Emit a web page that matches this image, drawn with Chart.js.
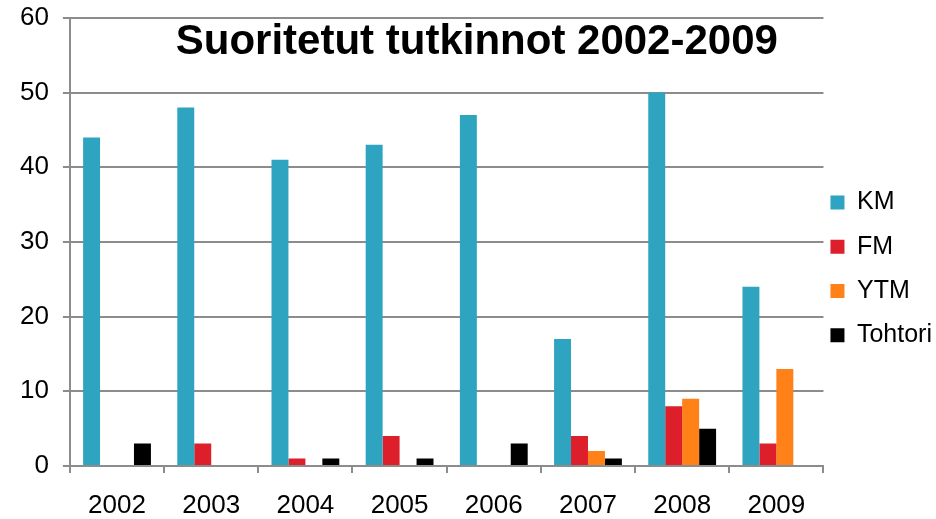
<!DOCTYPE html>
<html>
<head>
<meta charset="utf-8">
<script src="https://cdn.jsdelivr.net/npm/chart.js@4/dist/chart.umd.min.js"></script>
<style>
  html, body { margin: 0; padding: 0; background: #fff; }
  #wrap { width: 936px; height: 519px; }
</style>
</head>
<body>
<div id="wrap"><canvas id="tutkinnot" width="936" height="519"></canvas></div>
<script>
// Vuodet ja tutkintomäärät
var years = ['2002', '2003', '2004', '2005', '2006', '2007', '2008', '2009'];
var km = [44, 48, 41, 43, 47, 17, 50, 24];
var fm = [0, 3, 1, 4, 0, 4, 8, 3];
var ytm = [0, 0, 0, 0, 0, 2, 9, 13];
var tohtori = [3, 0, 1, 1, 3, 1, 5, 0];
var yTicks = [0, 10, 20, 30, 40, 50, 60];

var fontFamily = '"Liberation Sans", Arial, sans-serif';
var gridGray = '#8c8c8c';

// Otsikko piirretään kuva-alueen sisään
var insideTitle = {
    id: 'insideTitle',
    afterDraw: function(chart) {
        var ctx = chart.ctx,
            area = chart.chartArea;
        ctx.save();
        ctx.font = 'bold 42px ' + fontFamily;
        ctx.fillStyle = '#000';
        ctx.textAlign = 'center';
        ctx.textBaseline = 'middle';
        ctx.fillText('Suoritetut tutkinnot 2002-2009', area.left + (area.right - area.left) * 0.54, area.top + 25);
        ctx.restore();
    }
};

new Chart(document.getElementById('tutkinnot'), {
    type: 'bar',
    data: {
        labels: years,
        datasets: [
            { label: 'KM', data: km, backgroundColor: '#2ea4c1' },
            { label: 'FM', data: fm, backgroundColor: '#dc1f2b' },
            { label: 'YTM', data: ytm, backgroundColor: '#ff8118' },
            { label: 'Tohtori', data: tohtori, backgroundColor: '#000000' }
        ]
    },
    options: {
        responsive: false,
        animation: false,
        categoryPercentage: 0.72,
        barPercentage: 1.0,
        layout: { padding: { top: -3, right: -6, bottom: -20, left: 6 } },
        plugins: {
            title: { display: false },
            tooltip: { enabled: false },
            legend: {
                position: 'right',
                // tyhjä otsikko siirtää selitettä hieman alaspäin
                title: { display: true, text: '', padding: 0, font: { size: 10, lineHeight: 1.4 } },
                labels: {
                    boxWidth: 14,
                    boxHeight: 14,
                    padding: 7,
                    color: '#000',
                    font: { family: fontFamily, size: 25, lineHeight: 1.49 },
                    // rivivälin säätö: teksti taulukkona -> korkeus = lineHeight
                    generateLabels: function(chart) {
                        var items = Chart.defaults.plugins.legend.labels.generateLabels(chart);
                        items.forEach(function(item) { item.text = [item.text]; });
                        return items;
                    }
                }
            }
        },
        scales: {
            x: {
                grid: { display: true, drawOnChartArea: false, drawTicks: true, tickLength: 7, color: gridGray, lineWidth: 2 },
                border: { display: true, color: gridGray, width: 2 },
                ticks: { color: '#000', padding: 23, font: { family: fontFamily, size: 26, lineHeight: 0.77 } }
            },
            y: {
                min: 0,
                max: 60,
                afterBuildTicks: function(axis) {
                    axis.ticks = yTicks.map(function(v) { return { value: v }; });
                },
                grid: { color: gridGray, lineWidth: 2, tickLength: 7 },
                border: { display: true, color: gridGray, width: 2 },
                ticks: { color: '#000', padding: 14, font: { family: fontFamily, size: 26, lineHeight: 0.3 } }
            }
        }
    },
    plugins: [insideTitle]
});
</script>
</body>
</html>
